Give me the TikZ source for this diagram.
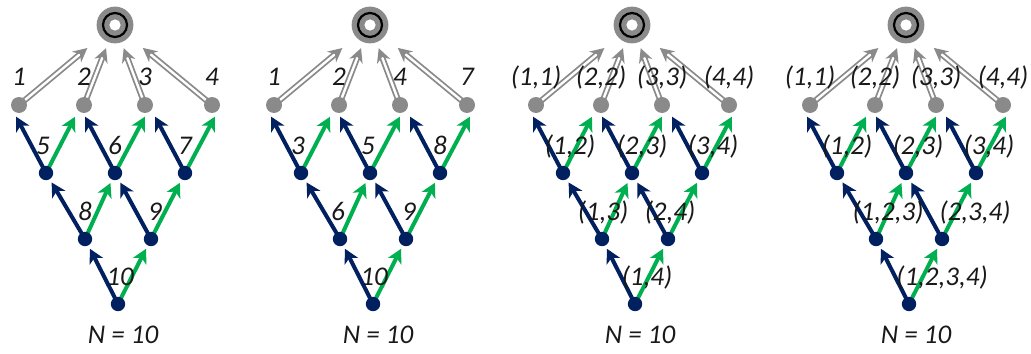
\documentclass[tikz,border=0pt]{standalone}
\usepackage{fontspec}
\setmainfont{Carlito}
\usetikzlibrary{arrows.meta}
\definecolor{navy}{RGB}{0,32,96}
\definecolor{grn}{RGB}{0,176,80}
\definecolor{dotgray}{RGB}{138,138,138}
\tikzset{
  up/.style={line width=2pt, shorten >=5.5pt,
    -{Stealth[length=7pt,width=7.5pt,inset=2pt]}},
  lft/.style={up, navy}, rgt/.style={up, grn},
  dbl/.style={draw=dotgray, line width=0.9pt, double=white,
    double distance=1.2pt, -{Stealth[length=7pt,width=7pt]}},
  lbl/.style={font=\fontsize{13.5}{15}\selectfont\itshape, text=black!90,
    inner sep=0pt, text height=.75em, text depth=.25em}
}
% one lattice, drawn round its root at (0,0)
\newcommand\lattice{%
  \coordinate (r) at (0,0);
  \coordinate (g1) at (-96,80); \coordinate (g2) at (-31,80);
  \coordinate (g3) at (30,80); \coordinate (g4) at (97,80);
  \coordinate (t1) at (-104,82); \coordinate (t2) at (-35,82);
  \coordinate (t3) at (35,82); \coordinate (t4) at (105,82);
  \coordinate (a1) at (-69,148); \coordinate (a2) at (0,148);
  \coordinate (a3) at (70,148);
  \coordinate (b1) at (-30,214); \coordinate (b2) at (36,214);
  \coordinate (c) at (3,279);
  \foreach \s/\e in {a1/t1,a2/t2,a3/t3,b1/a1,b2/a2,c/b1}
    \draw[lft] (\s) -- (\e);
  \foreach \s/\e in {a1/t2,a2/t3,a3/t4,b1/a2,b2/a3,c/b2}
    \draw[rgt] (\s) -- (\e);
  \foreach \g/\k in {g1/18pt,g2/12.4pt,g3/12.4pt,g4/18pt}
    \draw[dbl, shorten >=\k] (\g) -- (r);
  \foreach \p in {g1,g2,g3,g4} \fill[dotgray] (\p) circle (4pt);
  \foreach \p in {a1,a2,a3,b1,b2,c} \fill[navy] (\p) circle (3.6pt);
  \fill[dotgray] (r) circle (9.2pt); \draw[line width=1.1pt] (r) circle (6pt);
  \fill[white] (r) circle (2.8pt);
}
\begin{document}
\begin{tikzpicture}[x=0.5pt, y=-0.5pt]
  \useasboundingbox (0,0) rectangle (1031,353);
  \begin{scope}[shift={(115,25)}, name prefix=p1-]
    \lattice
    \foreach \p/\t/\d in {g1/1/0,g2/2/0,g3/3/0,g4/4/0,a1/5/-3,a2/6/0,
      a3/7/0,b1/8/0,b2/9/4,c/10/2}
      \node[lbl] (l\p) at ([shift={(\d,-24)}]\p) {\t};
    \node[lbl] (n) at (8,313) {N = 10};
  \end{scope}
  \begin{scope}[shift={(370,25)}, name prefix=p2-]
    \lattice
    \foreach \p/\t/\d in {g1/1/0,g2/2/0,g3/4/0,g4/7/0,a1/3/-3,a2/5/-2,
      a3/8/0,b1/6/-2,b2/9/3,c/10/1}
      \node[lbl] (l\p) at ([shift={(\d,-24)}]\p) {\t};
    \node[lbl] (n) at (8,313) {N = 10};
  \end{scope}
  \begin{scope}[shift={(632,25)}, name prefix=p3-]
    \lattice
    \foreach \p/\t/\d in {g1/{(1,1)}/0,g2/{(2,2)}/0,g3/{(3,3)}/0,
      g4/{(4,4)}/0,a1/{(1,2)}/7,a2/{(2,3)}/10,a3/{(3,4)}/11,
      b1/{(1,3)}/1,b2/{(2,4)}/2,c/{(1,4)}/12}
      \node[lbl] (l\p) at ([shift={(\d,-24)}]\p) {\t};
    \node[lbl] (n) at (8,313) {N = 10};
  \end{scope}
  \begin{scope}[shift={(906,25)}, name prefix=p4-]
    \lattice
    \foreach \p/\t/\d in {g1/{(1,1)}/0,g2/{(2,2)}/0,g3/{(3,3)}/0,
      g4/{(4,4)}/0,a1/{(1,2)}/10,a2/{(2,3)}/12,a3/{(3,4)}/13,
      b1/{(1,2,3)}/12,b2/{(2,3,4)}/33,c/{(1,2,3,4)}/33}
      \node[lbl] (l\p) at ([shift={(\d,-24)}]\p) {\t};
    \node[lbl] (n) at (10,313) {N = 10};
  \end{scope}
\end{tikzpicture}
\end{document}
